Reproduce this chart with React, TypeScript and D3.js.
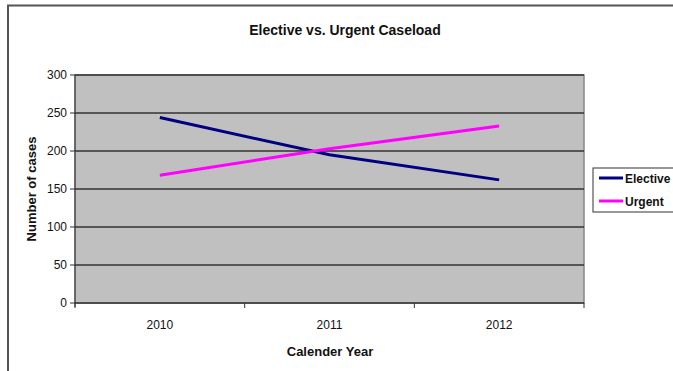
import React from "react";
import * as d3 from "d3";

const years = ["2010", "2011", "2012"];
const elective = [244, 195, 162];
const urgent = [168, 203, 233];
const yTicks = [0, 50, 100, 150, 200, 250, 300];
const seriesNames = ["Elective", "Urgent"];
const seriesColors = ["#000080", "#ff00ff"];

const W = 673;
const H = 371;
const M = { left: 75, right: 584, top: 75, bottom: 303 };
const FONT = "'Liberation Sans', Arial, sans-serif";

export default function App() {
  const x = d3.scaleBand().domain(years).range([M.left, M.right]).padding(0);
  const y = d3.scaleLinear().domain([0, 300]).range([M.bottom, M.top]);
  const line = d3
    .line<number>()
    .x((_, i) => (x(years[i]) as number) + x.bandwidth() / 2)
    .y((d) => y(d));
  const series = [elective, urgent];
  const boundaries = [...years.map((yr) => x(yr) as number), M.right];

  return (
    <svg
      width={W}
      height={H}
      style={{ position: "absolute", left: 0, top: 0, background: "#fff" }}
      fontFamily={FONT}
    >
      <rect x={8} y={5.5} width={W + 10} height={H + 10} fill="#fff" stroke="#555" strokeWidth={2} />
      <text x={345} y={35} textAnchor="middle" fontSize={14} fontWeight="bold" fill="#111">
        Elective vs. Urgent Caseload
      </text>
      <rect
        x={M.left}
        y={M.top}
        width={M.right - M.left}
        height={M.bottom - M.top}
        fill="#c0c0c0"
        stroke="#888"
        strokeWidth={1.5}
      />
      {yTicks.map((t) => (
        <g key={t}>
          {t > 0 && (
            <line x1={M.left} x2={M.right} y1={y(t)} y2={y(t)} stroke="#333" strokeWidth={1.5} />
          )}
          <line x1={M.left - 5} x2={M.left} y1={y(t)} y2={y(t)} stroke="#333" strokeWidth={1} />
          <text x={M.left - 8} y={y(t) + 4} textAnchor="end" fontSize={12} fill="#111">
            {t}
          </text>
        </g>
      ))}
      <line x1={M.left} x2={M.left} y1={M.top} y2={M.bottom + 4} stroke="#333" strokeWidth={1} />
      <line x1={M.left} x2={M.right} y1={M.bottom} y2={M.bottom} stroke="#333" strokeWidth={1.5} />
      {boundaries.map((b, i) => (
        <line key={i} x1={b} x2={b} y1={M.bottom} y2={M.bottom + 5} stroke="#333" strokeWidth={1} />
      ))}
      {years.map((yr) => (
        <text
          key={yr}
          x={(x(yr) as number) + x.bandwidth() / 2}
          y={329}
          textAnchor="middle"
          fontSize={12}
          fill="#111"
        >
          {yr}
        </text>
      ))}
      <text x={330} y={356} textAnchor="middle" fontSize={13} fontWeight="bold" fill="#111">
        Calender Year
      </text>
      <text
        transform={`translate(36, ${(M.top + M.bottom) / 2}) rotate(-90)`}
        textAnchor="middle"
        fontSize={13}
        fontWeight="bold"
        fill="#111"
      >
        Number of cases
      </text>
      {series.map((s, i) => (
        <path key={i} d={line(s) as string} fill="none" stroke={seriesColors[i]} strokeWidth={3} />
      ))}
      <rect x={593} y={168} width={90} height={44} fill="#fff" stroke="#333" strokeWidth={1} />
      {seriesNames.map((n, i) => (
        <g key={n}>
          <line
            x1={599}
            x2={623}
            y1={178 + i * 23}
            y2={178 + i * 23}
            stroke={seriesColors[i]}
            strokeWidth={3}
          />
          <text x={625} y={182.5 + i * 23} fontSize={12} fontWeight="bold" fill="#111">
            {n}
          </text>
        </g>
      ))}
    </svg>
  );
}
